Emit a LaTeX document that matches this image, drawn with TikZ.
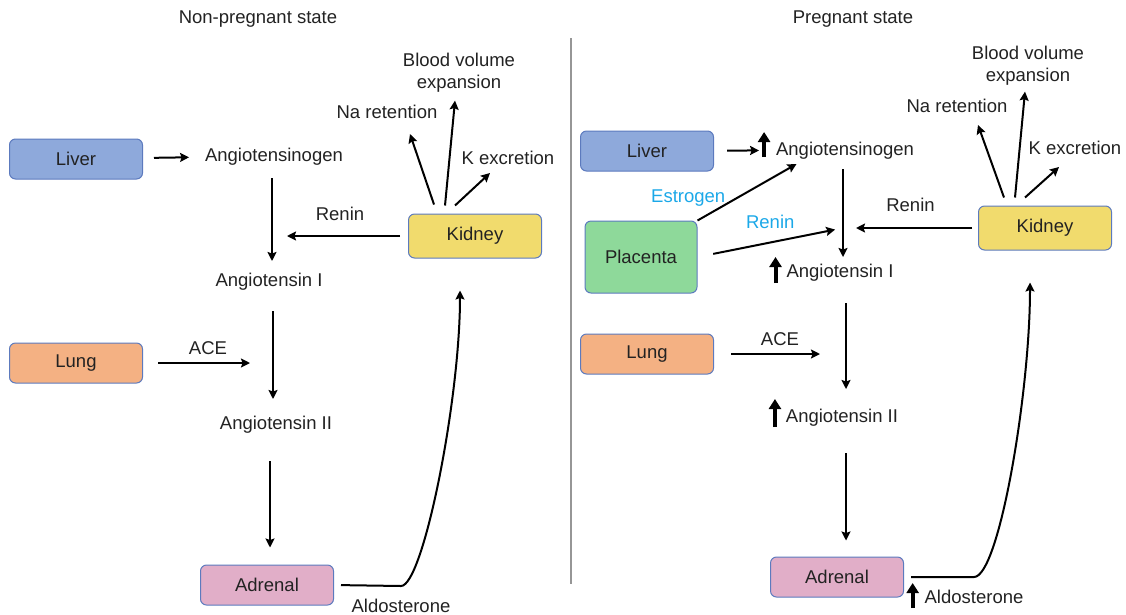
\documentclass[tikz,border=0pt]{standalone}
\usepackage{fontspec}
\setmainfont{Liberation Sans}
\usetikzlibrary{arrows.meta}

\definecolor{liverblue}{RGB}{142,169,219}
\definecolor{lungorange}{RGB}{244,177,131}
\definecolor{adrenalpink}{RGB}{225,174,200}
\definecolor{kidneyyellow}{RGB}{241,219,109}
\definecolor{placentagreen}{RGB}{142,217,154}
\definecolor{boxline}{RGB}{92,122,190}
\definecolor{skyblue}{RGB}{27,168,232}
\definecolor{inkgray}{RGB}{34,34,34}
\definecolor{splitgray}{RGB}{150,150,150}

\begin{document}
\begin{tikzpicture}[
    x = 1pt, y = -1pt, % pixel units, y grows downward
    > = {Stealth[length=9pt,width=9pt,inset=1.5pt]}, % arrow head style
    line width = 2pt, % line style
    font = \fontsize{18.5}{22}\selectfont,
    text = inkgray
    ]

    \tikzset{
    organ/.style = {draw = boxline, line width = 1pt, rounded corners = 6pt,
        minimum width = 133pt, minimum height = 40pt, inner sep = 0pt},
    word/.style = {inner sep = 2pt, text height = 14pt, text depth = 4pt},
    multi/.style = {inner sep = 2pt, align = center},
    bump/.style = {line width = 4pt, -{Triangle[length=10pt,width=12pt]}}
    }
    \useasboundingbox (0,0) rectangle (1126,614);

    % non-pregnant state
    \node[word] (titleL) at (258,18) {Non-pregnant state};
    \node[organ, fill=liverblue] (liverL) at (76,159) {Liver};
    \node[word] (agL) at (274,156) {Angiotensinogen};
    \node[word] (a1L) at (269,281) {Angiotensin I};
    \node[organ, fill=lungorange] (lungL) at (76,363) {Lung};
    \node[word] (a2L) at (276,424) {Angiotensin II};
    \node[organ, fill=adrenalpink] (adrL) at (267,585) {Adrenal};
    \node[organ, fill=kidneyyellow, minimum height=44pt] (kidL) at (475,236) {Kidney};
    \node[word] (naL) at (387,113) {Na retention};
    \node[multi] (bvL) at (459,73) {Blood volume\\expansion};
    \node[word] (kL) at (508,159) {K excretion};

    \path[->] (liverL) edge[shorten <=11pt, shorten >=13pt] (agL);
    \draw[->, shorten <=10pt, shorten >=8pt] ([xshift=-2pt]agL.south) -- ([xshift=-2pt]agL.south |- a1L.north);
    \draw[->, shorten <=18pt, shorten >=13pt] ([xshift=4pt]a1L.south) -- ([xshift=4pt]a1L.south |- a2L.north);
    \draw[->, shorten <=25pt, shorten >=17pt] ([xshift=-6pt]a2L.south) -- ([xshift=-6pt]a2L.south |- adrL.north);
    \path[->] (kidL.west) edge[shorten <=8pt, shorten >=15pt] node[word, above=9pt]{Renin} ([xshift=3pt]a1L.north |- kidL.west);
    \path[->] (lungL.east) edge[shorten <=15pt, shorten >=23pt] node[word, above=2pt]{ACE} ([xshift=4pt]a1L.south |- lungL.east);
    \draw[->] ([xshift=-41pt,yshift=9pt]kidL.north) -- ([xshift=23pt,yshift=-9pt]naL.south);
    \draw[->] ([xshift=-30pt,yshift=8pt]kidL.north) -- ([xshift=-4pt,yshift=-5pt]bvL.south);
    \draw[->] ([xshift=-20pt,yshift=8pt]kidL.north) -- ([xshift=-18pt,yshift=-2pt]kL.south);
    \draw[->, shorten <=7pt] (adrL.east) -- ++(67,1) node[word, below=9pt] (aldL) {Aldosterone}
        .. controls +(22,0) and +(0,110) .. ([xshift=-15pt,yshift=-32pt]kidL.south);

    % divider
    \draw[splitgray] (571,38) -- (571,584);

    % pregnant state
    \node[word] (titleR) at (853,18) {Pregnant state};
    \node[organ, fill=liverblue] (liverR) at (647,151) {Liver};
    \node[word] (agR) at (845,150) {Angiotensinogen};
    \node[organ, fill=placentagreen, minimum width=112pt, minimum height=72pt] (plac) at (641,257) {Placenta};
    \node[word] (a1R) at (840,272) {Angiotensin I};
    \node[organ, fill=lungorange] (lungR) at (647,354) {Lung};
    \node[word] (a2R) at (842,417) {Angiotensin II};
    \node[organ, fill=adrenalpink] (adrR) at (837,577) {Adrenal};
    \node[organ, fill=kidneyyellow, minimum height=44pt] (kidR) at (1045,228) {Kidney};
    \node[word] (naR) at (957,107) {Na retention};
    \node[multi] (bvR) at (1028,66) {Blood volume\\expansion};
    \node[word] (kR) at (1075,149) {K excretion};

    \path[->] (liverR) edge[shorten <=13pt, shorten >=14pt] (agR);
    \path[->] (plac.north east) edge[shorten >=4pt] node[word, pos=0.3, above left, yshift=-7pt, text=skyblue]{Estrogen} ([xshift=-45pt]agR.south);
    \path[->] (plac.east) edge[shorten <=16pt, shorten >=8pt] node[word, above=7pt, text=skyblue]{Renin} ([xshift=-2pt]agR.south |- kidR.west);
    \draw[->, shorten <=7pt, shorten >=3pt] ([xshift=-2pt]agR.south) -- ([xshift=-2pt]agR.south |- a1R.north);
    \draw[->, shorten <=19pt, shorten >=16pt] ([xshift=6pt]a1R.south) -- ([xshift=6pt]a1R.south |- a2R.north);
    \draw[->, shorten <=24pt, shorten >=16pt] ([xshift=4pt]a2R.south) -- ([xshift=4pt]a2R.south |- adrR.north);
    \path[->] (kidR.west) edge[shorten <=6pt, shorten >=13pt] node[word, above=10pt]{Renin} ([xshift=-2pt]agR.south |- kidR.west);
    \path[->] (lungR.east) edge[shorten <=17pt, shorten >=26pt] node[word, above=2pt]{ACE} ([xshift=6pt]a1R.south |- lungR.east);
    \draw[->] ([xshift=-41pt,yshift=8pt]kidR.north) -- ([xshift=21pt,yshift=-6pt]naR.south);
    \draw[->] ([xshift=-30pt,yshift=8pt]kidR.north) -- ([xshift=-3pt,yshift=-3pt]bvR.south);
    \draw[->] ([xshift=-20pt,yshift=8pt]kidR.north) -- ([xshift=-16pt,yshift=-6pt]kR.south);
    \draw[->, shorten <=7pt] (adrR.east) -- ++(70,0) node[word, below=9pt] (aldR) {Aldosterone}
        .. controls +(25,0) and +(0,110) .. ([xshift=-15pt,yshift=-32pt]kidR.south);

    % increase marks
    \draw[bump] ([xshift=-9pt,yshift=-7pt]agR.west) -- ++(0,-25);
    \draw[bump] ([xshift=-8pt,yshift=-11pt]a1R.west) -- ++(0,-26);
    \draw[bump] ([xshift=-8pt,yshift=-10pt]a2R.west) -- ++(0,-28);
    \draw[bump] ([xshift=-9pt,yshift=-10pt]aldR.west) -- ++(0,-25);
\end{tikzpicture}
\end{document}
